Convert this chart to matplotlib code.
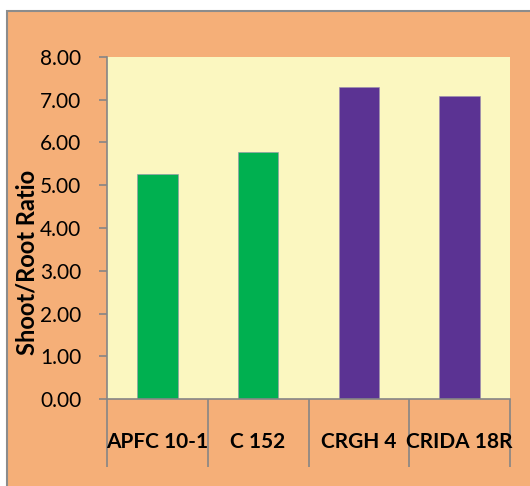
import matplotlib.pyplot as plt
from matplotlib.patches import Rectangle

# dados
variedades = ['APFC 10-1', 'C 152', 'CRGH 4', 'CRIDA 18R']
razao = [5.26, 5.78, 7.29, 7.08]
cores = ['#00B050', '#00B050', '#5B3393', '#5B3393']
yticks = [0, 1, 2, 3, 4, 5, 6, 7, 8]

plt.rcParams['font.family'] = ['Lato', 'DejaVu Sans']

fig = plt.figure(figsize=(5.3, 4.86), dpi=100)
fig.patch.set_facecolor('white')

# fundo laranja com borda
fundo = Rectangle((7/530, -0.05), 1.1, 1 - 11/486 + 0.05, transform=fig.transFigure,
                  facecolor='#F5AF78', edgecolor='#8C8C8C', linewidth=1.5, zorder=-10)
fig.patches.append(fundo)

ax = fig.add_axes([107/530, 1 - 399/486, 403/530, 342/486])
ax.set_facecolor('#FBF7C0')

x = range(len(variedades))
ax.bar(x, razao, width=0.4, color=cores, edgecolor='#9a8fb0', linewidth=0.4, zorder=2)

ax.set_xlim(-0.5, 3.5)
ax.set_ylim(0, 8)
ax.set_yticks(yticks)
ax.set_yticklabels(['%.2f' % v for v in yticks], fontsize=15)
ax.tick_params(axis='y', direction='out', length=6, width=1.2, color='#868686', pad=12.5)

# separadores entre categorias como ticks longos
ax.set_xticks([-0.5, 0.5, 1.5, 2.5, 3.5])
ax.set_xticklabels([])
ax.tick_params(axis='x', which='major', direction='out', length=49, width=1.2, color='#868686')
ax.set_xticks(list(x), minor=True)
ax.set_xticklabels(variedades, minor=True, fontsize=15, fontweight='bold')
ax.tick_params(axis='x', which='minor', length=0, pad=24)

for s in ['top', 'right']:
    ax.spines[s].set_visible(False)
for s in ['left', 'bottom']:
    ax.spines[s].set_color('#868686')
    ax.spines[s].set_linewidth(1.2)

ax.set_ylabel('Shoot/Root Ratio', fontsize=17, fontweight='bold')
ax.yaxis.set_label_coords(-0.171, 0.40)

fig.savefig('out.png', dpi=100)
